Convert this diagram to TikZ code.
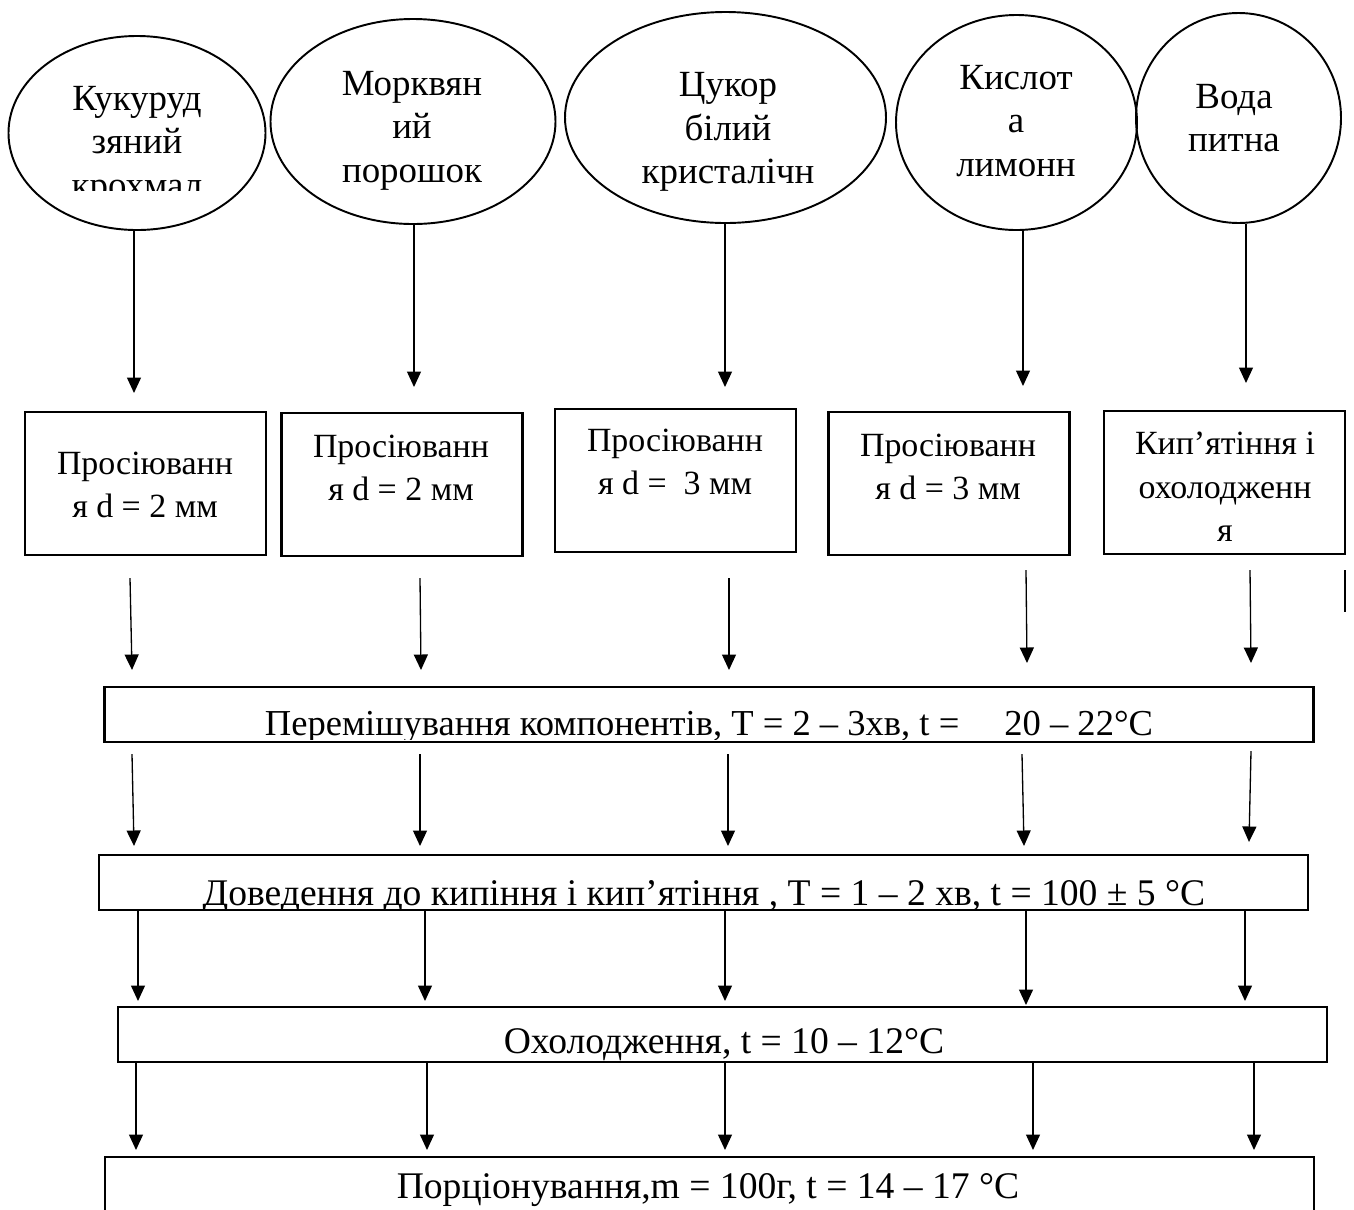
\documentclass[tikz,border=0pt]{standalone}
\usepackage{fontspec}
\setmainfont{Liberation Serif}
\usetikzlibrary{shapes.geometric,arrows.meta}

\begin{document}
\begin{tikzpicture}[x=0.2mm,y=-0.2mm,
  ingr/.style={draw,ellipse,line width=1.1pt,inner sep=0pt},
  stepbox/.style={draw,rectangle,line width=1.3pt,minimum width=48.2mm,minimum height=28.6mm,inner sep=0pt},
  stage/.style={draw,rectangle,line width=1.5pt,minimum width=241.8mm,minimum height=11mm,inner sep=0pt},
  ingrlbl/.style={align=center,inner sep=0pt,font=\fontsize{21}{24.8}\selectfont},
  lbl/.style={align=center,inner sep=0pt,font=\fontsize{19.3}{24.8}\selectfont},
  wide/.style={inner sep=0pt,anchor=base,font=\fontsize{21.4}{25}\selectfont},
  arr/.style={line width=0.75pt,-{Triangle[length=3.1mm,width=2.8mm]}}]
\useasboundingbox (0,0) rectangle (1354,1209);

\node[ingr,minimum width=51.4mm,minimum height=38.8mm] (e1) at (137,133) {};
\node[ingr,minimum width=57mm,minimum height=41mm] (e2) at (413,121.5) {};
\node[ingr,minimum width=64.2mm,minimum height=42.2mm] (e3) at (725.5,117.5) {};
\node[ingr,minimum width=48.2mm,minimum height=43mm] (e4) at (1016.5,122.5) {};
\node[ingr,minimum width=41mm,minimum height=42mm] (e5) at (1238.5,118) {};

\begin{scope}
  \clip (0,0) rectangle (1354,190);
  \node[ingrlbl] (t1) at (137,145.5) {Кукуруд\\зяний\\крохмал};
\end{scope}
\node[ingrlbl] (t2) at (412,130.5) {Морквян\\ий\\порошок};
\node[ingrlbl] (t3) at (728,132) {Цукор\\білий\\кристалічн};
\node[ingrlbl] (t4) at (1016,121) {Кислот\\а\\лимонн};
\node[ingrlbl] (t5) at (1234,118) {Вода\\питна};

\coordinate (k1) at (134,393);
\coordinate (k2) at (414,387);
\coordinate (k3) at (725,387);
\coordinate (k4) at (1023,386);
\coordinate (k5) at (1246,383);
\draw[arr] (e1.south -| k1) -- (k1);
\draw[arr] (e2.south -| k2) -- (k2);
\draw[arr] (e3.south -| k3) -- (k3);
\draw[arr] (e4.south -| k4) -- (k4);
\draw[arr] (e5.south -| k5) -- (k5);

\node[stepbox] (s1) at (145.5,483.5) {};
\node[stepbox] (s2) at (402,484.5) {};
\node[stepbox] (s3) at (675.5,480.5) {};
\node[stepbox] (s4) at (949,483.5) {};
\node[stepbox] (s5) at (1224.5,482.5) {};
\node[lbl] (s1t) at (145,485) {Просіюванн\\я d = 2 мм};
\node[lbl] (s2t) at (401,468) {Просіюванн\\я d = 2 мм};
\node[lbl] (s3t) at (675,462) {Просіюванн\\я d =\ \ 3 мм};
\node[lbl] (s4t) at (948,467) {Просіюванн\\я d = 3 мм};
\node[lbl] (s5t) at (1225,487) {Кип’ятіння і\\охолодженн\\я};

\coordinate (m1) at (130,578);  \coordinate (n1) at (132,670);
\coordinate (m2) at (420,578);  \coordinate (n2) at (421,670);
\coordinate (m3) at (729,578);  \coordinate (n3) at (729,670);
\coordinate (m4) at (1026,570); \coordinate (n4) at (1027,663);
\coordinate (m5) at (1250,570); \coordinate (n5) at (1251,663);
\draw[arr] (m1) -- (n1);
\draw[arr] (m2) -- (n2);
\draw[arr] (m3) -- (n3);
\draw[arr] (m4) -- (n4);
\draw[arr] (m5) -- (n5);
\draw[line width=1pt] (1345,570) -- (1345,612);

\node[stage] (b1) at (709,714.5) {};
\begin{scope}
  \clip ([yshift=0.7mm]b1.south west) rectangle (b1.north east);
  \node[wide,font=\fontsize{20.8}{25}\selectfont] (b1t) at (709,735.5) {Перемішування компонентів, T = 2 – 3хв, t =\hspace{9mm}20 – 22°C};
\end{scope}

\coordinate (p1) at (132,754);  \coordinate (q1) at (134,846);
\coordinate (p2) at (420,754);  \coordinate (q2) at (420,846);
\coordinate (p3) at (728,754);  \coordinate (q3) at (728,846);
\coordinate (p4) at (1022,754); \coordinate (q4) at (1024,846);
\coordinate (p5) at (1251,751); \coordinate (q5) at (1249,842);
\draw[arr] (p1) -- (q1);
\draw[arr] (p2) -- (q2);
\draw[arr] (p3) -- (q3);
\draw[arr] (p4) -- (q4);
\draw[arr] (p5) -- (q5);

\node[stage] (b2) at (703.5,882.5) {};
\begin{scope}
  \clip ([yshift=0.3mm]b2.south west) rectangle (b2.north east);
  \node[wide] (b2t) at (704,905) {Доведення до кипіння і кип’ятіння , T = 1 – 2 хв, t = 100 ± 5 °C};
\end{scope}

\coordinate (u1) at (138,1001);
\coordinate (u2) at (425,1001);
\coordinate (u3) at (725,1001);
\coordinate (u4) at (1026,1005);
\coordinate (u5) at (1245,1001);
\draw[arr] (b2.south -| u1) -- (u1);
\draw[arr] (b2.south -| u2) -- (u2);
\draw[arr] (b2.south -| u3) -- (u3);
\draw[arr] (b2.south -| u4) -- (u4);
\draw[arr] (b2.south -| u5) -- (u5);

\node[stage] (b3) at (722.5,1034.5) {};
\begin{scope}
  \clip ([yshift=0.4mm]b3.south west) rectangle (b3.north east);
  \node[wide] (b3t) at (724,1053) {Охолодження, t = 10 – 12°C};
\end{scope}

\coordinate (w1) at (136,1150);
\coordinate (w2) at (427,1150);
\coordinate (w3) at (725,1150);
\coordinate (w4) at (1033,1150);
\coordinate (w5) at (1254,1150);
\draw[arr] (b3.south -| w1) -- (w1);
\draw[arr] (b3.south -| w2) -- (w2);
\draw[arr] (b3.south -| w3) -- (w3);
\draw[arr] (b3.south -| w4) -- (w4);
\draw[arr] (b3.south -| w5) -- (w5);

\node[stage,minimum height=16.6mm] (b4) at (709.5,1198.5) {};
\node[wide] (b4t) at (708,1198) {Порціонування,m = 100г, t = 14 – 17 °C};
\end{tikzpicture}
\end{document}
